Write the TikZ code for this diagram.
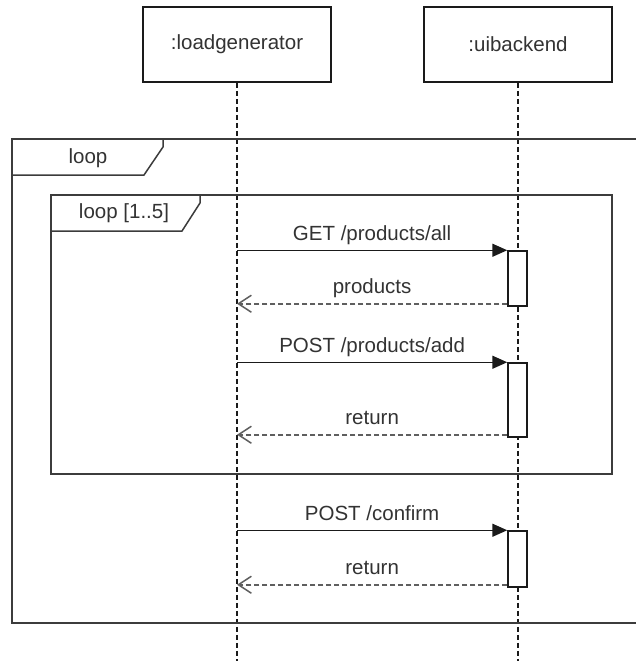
\documentclass[tikz,border=0pt]{standalone}
\usepackage{fontspec}
\setmainfont{Liberation Sans}
\usetikzlibrary{arrows.meta}
\definecolor{txt}{HTML}{333333}
\definecolor{ln}{HTML}{1A1A1A}
\begin{document}
\begin{tikzpicture}[x=1pt,y=-1pt,
  every node/.style={font=\fontsize{20.5}{24}\selectfont, text=txt},
  head/.style={draw=ln, line width=1.5pt, minimum width=188pt, minimum height=75pt, inner sep=0pt},
  actbox/.style={draw=ln, fill=white, line width=1.5pt, minimum width=19pt, inner sep=0pt},
  lifeline/.style={draw=ln, line width=1.5pt, dash pattern=on 5pt off 3pt},
  frame/.style={draw=ln!85!white, line width=1.5pt},
  msg/.style={draw=ln, line width=1.5pt, -{Triangle[length=15pt,width=13pt]}},
  ret/.style={draw=ln!70!white, line width=1.5pt, dash pattern=on 5pt off 3pt, -{Straight Barb[length=13pt,width=17pt,line width=1.5pt]}},
  lbl/.style={midway, anchor=base, yshift=10pt, inner sep=0pt}
]
\useasboundingbox (0,0) rectangle (636,661);
\fill[white] (0,0) rectangle (636,661);

% heads
\node[head] (lg) at (237,44.5) {:loadgenerator};
\node[head] (ub) at (518,44.5) {:uibackend};
\coordinate (lgend) at (237,661);
\coordinate (ubend) at (518,661);

% lifelines
\draw[lifeline] (lg.south) -- (lgend);
\draw[lifeline] (ub.south) -- (ubend);

% outer loop frame
\draw[frame] (640,139) -- (12,139) -- (12,623) -- (640,623);
\draw[frame] (163,139) -- (163,147) -- (144,175) -- (12,175);
\node (loopA) at (88,158) {loop};

% inner loop frame
\draw[frame] (51,195) rectangle (612,474);
\draw[frame] (200,195) -- (200,203) -- (182,231) -- (51,231);
\node (loopB) at (124,213) {loop [1..5]};

% activations
\node[actbox, minimum height=55pt] (a1) at (517.5,278.5) {};
\node[actbox, minimum height=74pt] (a2) at (517.5,400) {};
\node[actbox, minimum height=56pt] (a3) at (517.5,559) {};

% messages
\draw[msg] (a1.north west -| lg.south) -- (a1.north west) node[lbl] {GET /products/all};
\draw[ret] ([yshift=3pt]a1.south west) coordinate (p1) -- (p1 -| lg.south) node[lbl] {products};

\draw[msg] (a2.north west -| lg.south) -- (a2.north west) node[lbl] {POST /products/add};
\draw[ret] ([yshift=3pt]a2.south west) coordinate (p2) -- (p2 -| lg.south) node[lbl] {return};

\draw[msg] (a3.north west -| lg.south) -- (a3.north west) node[lbl] {POST /confirm};
\draw[ret] ([yshift=3pt]a3.south west) coordinate (p3) -- (p3 -| lg.south) node[lbl] {return};
\end{tikzpicture}
\end{document}
